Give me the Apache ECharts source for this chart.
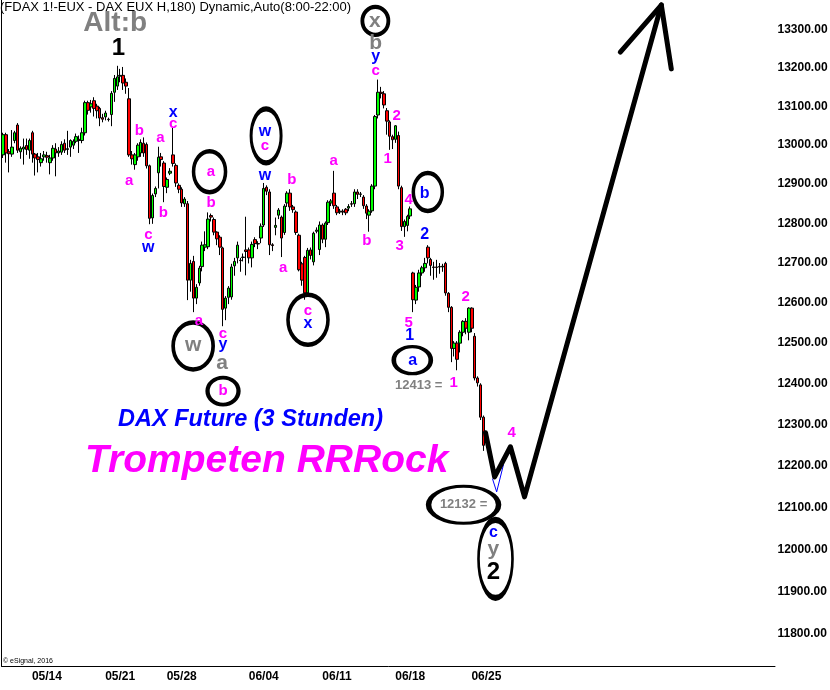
<!DOCTYPE html>
<html>
<head>
<meta charset="utf-8">
<script src="https://cdn.jsdelivr.net/npm/echarts@6/dist/echarts.min.js"></script>
<style>
  html, body { margin: 0; padding: 0; background: #fff; }
  #chart { width: 830px; height: 690px; }
</style>
</head>
<body>
<div id="chart"></div>
<script>
// 3h bars, 5 per trading day, plus empty room on the right for the projection
const totalSlots = 264
const categories = Array.from({ length: totalSlots }, (_, i) => 'bar' + i)

const weekLabels = ['05/14', '05/21', '05/28', '06/04', '06/11', '06/18', '06/25']
const weekSlots = [15, 40, 61, 89, 114, 139, 165]

const priceTicks = [11800, 11900, 12000, 12100, 12200, 12300, 12400, 12500,
  12600, 12700, 12800, 12900, 13000, 13100, 13200, 13300]
const lastPrice = 12249.5

// [open, close, low, high]
const candles = [
  [12975, 13027, 12967, 13032], [13027, 12980, 12955, 13032], [12983, 12978, 12930, 12990],
  [12977, 12995, 12970, 13039], [13012, 13032, 13005, 13037], [13052, 12987, 12980, 13057],
  [12983, 12992, 12965, 12997], [12990, 12995, 12950, 13017], [12999, 12989, 12975, 13017],
  [12987, 13012, 12965, 13017], [13032, 12977, 12955, 13037], [12977, 12967, 12922, 12980],
  [12970, 12963, 12930, 12980], [12955, 12965, 12945, 12980], [12970, 12975, 12960, 12985],
  [12973, 12969, 12955, 12983], [12955, 12967, 12925, 12975], [12967, 12992, 12960, 13000],
  [12990, 12980, 12920, 13005], [12980, 12985, 12970, 12995], [12982, 13002, 12975, 13010],
  [13005, 12987, 12980, 13015], [12989, 12991, 12975, 13037], [12995, 13012, 12970, 13015],
  [13000, 13010, 12990, 13015], [13010, 13022, 13005, 13030], [13015, 13012, 12980, 13025],
  [13012, 13032, 13005, 13045], [13032, 13110, 13025, 13115], [13110, 13090, 13079, 13115],
  [13099, 13107, 13084, 13117], [13115, 13095, 13074, 13124], [13101, 13089, 13069, 13107],
  [13095, 13070, 13049, 13099], [13071, 13067, 13059, 13081], [13073, 13083, 13064, 13089],
  [13067, 13066, 13061, 13071], [13079, 13134, 13049, 13140], [13137, 13173, 13112, 13182],
  [13153, 13177, 13143, 13206], [13179, 13181, 13163, 13198], [13181, 13161, 13143, 13203],
  [13163, 13153, 13133, 13173], [13120, 12975, 12970, 13148], [12975, 12965, 12950, 12985],
  [12950, 12975, 12937, 12980], [12970, 13000, 12960, 13005], [12980, 13007, 12970, 13015],
  [13005, 12980, 12970, 13020], [13002, 12947, 12940, 13007], [12947, 12813, 12798, 12950],
  [12814, 12871, 12799, 12876], [12875, 12889, 12867, 12894], [12929, 12969, 12889, 12996],
  [12970, 12963, 12945, 12980], [12954, 12894, 12854, 12959], [12892, 12912, 12877, 12917],
  [12928, 12933, 12923, 12941], [12975, 12953, 12945, 13045], [12948, 12903, 12893, 12953],
  [12897, 12887, 12877, 12902], [12887, 12852, 12842, 12892], [12850, 12862, 12842, 12867],
  [12850, 12657, 12607, 12857], [12657, 12699, 12628, 12708], [12704, 12612, 12577, 12718],
  [12612, 12639, 12597, 12647], [12650, 12687, 12643, 12693], [12691, 12745, 12679, 12754],
  [12740, 12746, 12730, 12780], [12741, 12811, 12735, 12828], [12820, 12816, 12805, 12825],
  [12810, 12778, 12770, 12815], [12778, 12761, 12745, 12780], [12765, 12740, 12720, 12770],
  [12738, 12584, 12542, 12741], [12587, 12612, 12557, 12617], [12614, 12637, 12597, 12642],
  [12615, 12690, 12608, 12698], [12693, 12704, 12668, 12713], [12713, 12745, 12699, 12754],
  [12707, 12706, 12678, 12713], [12714, 12715, 12704, 12724], [12733, 12729, 12669, 12817],
  [12733, 12713, 12699, 12739], [12713, 12747, 12689, 12754], [12759, 12749, 12740, 12765],
  [12749, 12748, 12735, 12755], [12763, 12793, 12750, 12800], [12796, 12889, 12791, 12903],
  [12892, 12882, 12872, 12897], [12880, 12746, 12720, 12887], [12746, 12744, 12730, 12750],
  [12790, 12795, 12770, 12815], [12821, 12834, 12811, 12839], [12816, 12763, 12715, 12820],
  [12777, 12844, 12771, 12849], [12852, 12877, 12842, 12882], [12877, 12842, 12832, 12887],
  [12842, 12835, 12827, 12847], [12829, 12777, 12771, 12833], [12770, 12683, 12679, 12774],
  [12698, 12657, 12643, 12703], [12714, 12625, 12608, 12718], [12625, 12732, 12618, 12738],
  [12733, 12719, 12709, 12739], [12703, 12775, 12694, 12779], [12780, 12783, 12775, 12790],
  [12734, 12796, 12720, 12805], [12796, 12760, 12750, 12800], [12760, 12801, 12740, 12805],
  [12802, 12854, 12796, 12859], [12852, 12857, 12844, 12862], [12877, 12845, 12837, 12934],
  [12842, 12827, 12821, 12847], [12829, 12831, 12824, 12837], [12831, 12829, 12821, 12836],
  [12836, 12827, 12821, 12839], [12839, 12843, 12831, 12849], [12850, 12849, 12842, 12857],
  [12850, 12880, 12842, 12887], [12880, 12874, 12862, 12887], [12874, 12875, 12867, 12880],
  [12867, 12845, 12837, 12872], [12844, 12826, 12811, 12849], [12821, 12831, 12779, 12836],
  [12832, 12895, 12827, 12900], [12895, 13074, 12887, 13078], [13078, 13137, 13069, 13170],
  [13137, 13134, 13121, 13151], [13133, 13104, 13095, 13140], [13089, 13062, 13027, 13096],
  [13060, 13023, 12988, 13064], [13022, 13014, 12990, 13027], [13015, 13050, 13006, 13052],
  [13025, 12895, 12887, 13035], [12891, 12792, 12781, 12896], [12792, 12805, 12766, 12810],
  [12795, 12818, 12780, 12822], [12819, 12837, 12811, 12843], [12675, 12608, 12577, 12678],
  [12607, 12639, 12597, 12645], [12640, 12675, 12628, 12683], [12675, 12688, 12668, 12693],
  [12688, 12699, 12678, 12713], [12740, 12713, 12699, 12745], [12709, 12694, 12668, 12713],
  [12690, 12689, 12658, 12703], [12690, 12689, 12663, 12708], [12691, 12690, 12673, 12700],
  [12690, 12692, 12678, 12698], [12699, 12625, 12618, 12703], [12624, 12589, 12577, 12627],
  [12589, 12487, 12453, 12592], [12487, 12500, 12467, 12505], [12500, 12460, 12433, 12505],
  [12500, 12527, 12477, 12532], [12527, 12554, 12517, 12557], [12554, 12537, 12522, 12562],
  [12527, 12587, 12507, 12589], [12587, 12537, 12527, 12589], [12517, 12414, 12408, 12525],
  [12414, 12402, 12393, 12418], [12397, 12318, 12311, 12401], [12318, 12249.5, 12236, 12322]
]

// wave counts: [bar position, price, text]
const magentaWaves = [
  [43.6, 12908, 'a'], [47.0, 13036, 'b'], [54.2, 13018, 'a'], [58.6, 13055, 'c'],
  [50.1, 12771, 'c'], [55.2, 12827, 'b'], [71.5, 12931, 'a'], [89.9, 12998, 'c'],
  [71.5, 12852, 'b'], [99.1, 12911, 'b'], [67.4, 12555, 'a'], [96.1, 12688, 'a'],
  [75.6, 12523, 'c'], [75.6, 12382, 'b'], [104.6, 12580, 'c'], [113.4, 12959, 'a'],
  [124.7, 12756, 'b'], [127.7, 13192, 'c'], [134.9, 13075, '2'], [131.8, 12964, '1'],
  [139.0, 12860, '4'], [135.9, 12743, '3'], [139.0, 12550, '5'], [154.3, 12402, '1'],
  [158.4, 12615, '2'], [174.1, 12280, '4']
]
const blueWaves = [
  [58.6, 13083, 'x'], [50.1, 12738, 'w'], [89.9, 13036, 'w'], [89.9, 12921, 'w'],
  [75.6, 12496, 'y'], [104.6, 12548, 'x'], [127.7, 13229, 'y'], [144.4, 12875, 'b'],
  [144.4, 12771, '2'], [139.3, 12518, '1'], [140.3, 12456, 'a'], [167.9, 12039, 'c']
]
const grayWaves = [
  [65.4, 12496, 'w'], [75.3, 12451, 'a'], [127.4, 13324, 'x'], [127.7, 13266, 'b'],
  [167.9, 11999, 'y']
]
const blackWaves = [[39.9, 13253, '1'], [167.9, 11944, '2']]
const altLabel = [[38.8, 13318, 'Alt:b']]
const priceNotes = [[142.4, 12395, '12413 ='], [157.7, 12106, '12132 =']]

// rings drawn around some of the counts
const ringCenters = [
  [71.0, 12932], [90.3, 13024], [65.4, 12493], [75.6, 12382], [104.6, 12558],
  [127.6, 13324], [145.5, 12880], [140.2, 12458], [157.7, 12106], [168.6, 11977]
]
const ringSizes = [
  [32, 41], [30, 54], [40, 47], [31, 27], [40, 50],
  [26, 28], [29, 38], [37, 27], [70, 37], [34, 78]
]

// hand drawn projection
const projection = [[165.2, 12280], [168.3, 12173], [173.7, 12246], [178.5, 12125], [225.2, 13366]]
const arrowHead = [[211.2, 13242], [225.2, 13366], [228.6, 13198]]
const subWave = [[167.6, 12168], [169.0, 12137], [171.3, 12202]]

const FONT = '"Liberation Sans", Arial, sans-serif'

function textSeries(points, color, size, extra) {
  return Object.assign({
    type: 'scatter',
    xAxisIndex: 1,
    yAxisIndex: 0,
    symbolSize: 1,
    silent: true,
    clip: false,
    z: 6,
    itemStyle: { color: 'rgba(0,0,0,0)', opacity: 1 },
    label: {
      show: true,
      position: 'inside',
      formatter: '{b}',
      color: color,
      opacity: 1,
      fontSize: size,
      fontWeight: 'bold',
      fontFamily: FONT
    },
    data: points.map((p) => ({ name: p[2], value: [p[0], p[1]] }))
  }, extra || {})
}

function lineSeries(points, color, width, z) {
  return {
    type: 'line',
    xAxisIndex: 1,
    yAxisIndex: 0,
    data: points,
    showSymbol: false,
    silent: true,
    z: z,
    lineStyle: { color: color, width: width, cap: 'round', join: 'round', opacity: 1 }
  }
}

const chart = echarts.init(document.getElementById('chart'))

const option = {
  animation: false,
  backgroundColor: '#fff',
  grid: { left: 0, right: 55, top: 0, bottom: 24 },
  xAxis: [
    {
      type: 'category',
      data: categories,
      boundaryGap: true,
      axisLine: { show: true, lineStyle: { color: '#000', width: 1 } },
      axisTick: { show: false },
      splitLine: { show: false },
      axisLabel: {
        interval: 0,
        margin: 5,
        color: '#000',
        fontSize: 12,
        fontWeight: 'bold',
        fontFamily: FONT,
        formatter: (value, index) => {
          const k = weekSlots.indexOf(index)
          return k >= 0 ? weekLabels[k] : ''
        }
      }
    },
    { type: 'value', min: 0, max: totalSlots, show: false }
  ],
  yAxis: {
    type: 'log',
    logBase: 10,
    position: 'right',
    min: 11725.5,
    max: 13379.3,
    axisLine: { show: true, lineStyle: { color: '#000', width: 1 } },
    axisTick: { show: false },
    axisLabel: { show: false },
    splitLine: { show: false }
  },
  graphic: [
    {
      type: 'text', x: 0, y: 7, silent: true,
      style: {
        text: '(FDAX 1!-EUX - DAX EUX H,180) Dynamic,Auto(8:00-22:00)',
        font: '13px ' + FONT, fill: '#000', verticalAlign: 'middle'
      }
    },
    {
      type: 'text', x: 3, y: 661, silent: true,
      style: { text: '\u00a9 eSignal, 2016', font: '7px ' + FONT, fill: '#000', verticalAlign: 'middle' }
    },
    {
      type: 'text', x: 118, y: 420, silent: true, z: 10,
      style: {
        text: 'DAX Future (3 Stunden)',
        font: 'italic bold 23.5px ' + FONT, fill: '#0000ff', verticalAlign: 'middle',
        textShadowColor: '#000070', textShadowOffsetX: -1, textShadowOffsetY: 1
      }
    },
    {
      type: 'text', x: 85, y: 461, silent: true, z: 10,
      style: {
        text: 'Trompeten RRRock',
        font: 'italic bold 39px ' + FONT, fill: '#ff00ff', verticalAlign: 'middle'
      }
    }
  ],
  series: [
    {
      type: 'candlestick',
      xAxisIndex: 0,
      yAxisIndex: 0,
      data: candles,
      barWidth: 3,
      silent: true,
      z: 2,
      itemStyle: {
        color: '#00ff00',
        color0: '#ff0000',
        borderColor: '#000',
        borderColor0: '#000',
        borderColorDoji: '#000',
        borderWidth: 1
      },
      markLine: {
        silent: true,
        symbol: ['none', 'none'],
        lineStyle: { opacity: 0 },
        label: {
          show: true,
          position: 'end',
          distance: 1,
          formatter: (p) => p.value.toFixed(2),
          color: '#fff',
          backgroundColor: '#ff0000',
          padding: [1, 3, 0, 2],
          fontSize: 12,
          fontWeight: 'bold',
          fontFamily: FONT
        },
        data: [{ yAxis: lastPrice }]
      }
    },
    {
      type: 'scatter',
      xAxisIndex: 1,
      yAxisIndex: 0,
      silent: true,
      clip: false,
      z: 4,
      symbol: 'circle',
      itemStyle: { color: 'rgba(0,0,0,0)', borderColor: '#000', borderWidth: 4, opacity: 1 },
      data: ringCenters.map((c, i) => ({ value: c, symbolSize: ringSizes[i] }))
    },
    lineSeries(subWave, '#0000ff', 1, 4),
    lineSeries(projection, '#000', 5, 5),
    lineSeries(arrowHead, '#000', 5, 5),
    textSeries(magentaWaves, '#ff00ff', 15),
    textSeries(blueWaves, '#0000ff', 16),
    textSeries(grayWaves, '#808080', 21),
    textSeries(blackWaves, '#000', 24),
    textSeries(altLabel, '#808080', 28),
    textSeries(priceNotes, '#808080', 13),
    // price scale labels at the right edge of the plot
    {
      type: 'scatter',
      xAxisIndex: 1,
      yAxisIndex: 0,
      symbolSize: 1,
      silent: true,
      clip: false,
      z: 3,
      itemStyle: { color: 'rgba(0,0,0,0)', opacity: 1 },
      label: {
        show: true,
        position: 'right',
        distance: 2,
        formatter: '{b}',
        color: '#000',
        fontSize: 12,
        fontWeight: 'bold',
        fontFamily: FONT
      },
      data: priceTicks.map((v) => ({ name: v.toFixed(2), value: [totalSlots, v] }))
    }
  ]
}

chart.setOption(option)
</script>
</body>
</html>
